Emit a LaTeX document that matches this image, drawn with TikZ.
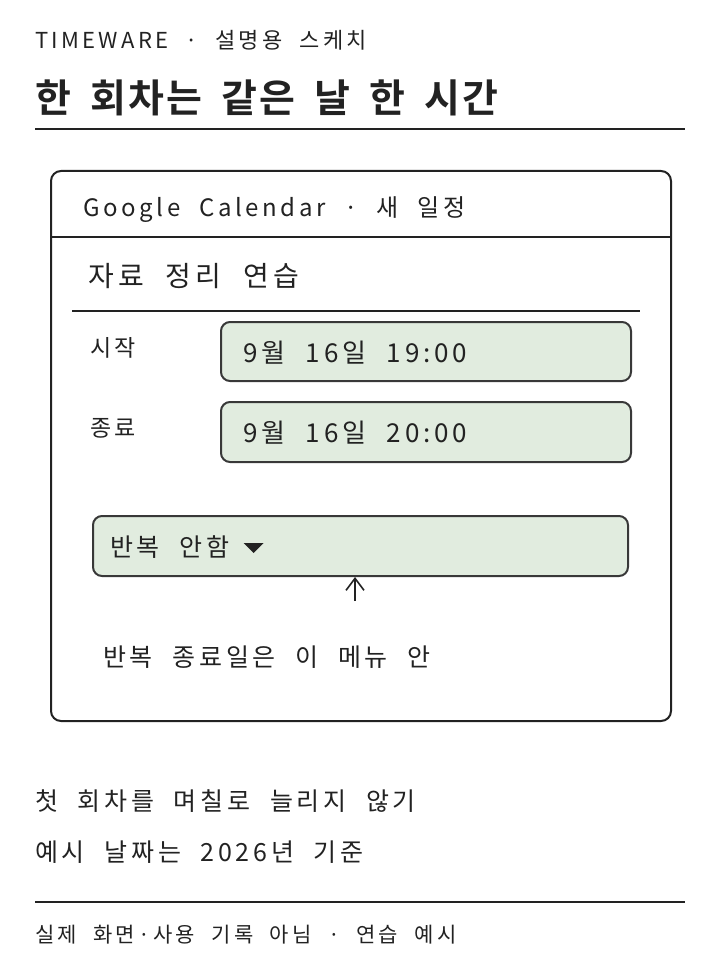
\documentclass[tikz,border=0pt]{standalone}
\usepackage{fontspec}
\setmainfont{Noto Sans CJK KR}
\newfontfamily\hand[LetterSpace=15, WordSpace=2.1]{Noto Sans CJK KR}
\newfontfamily\handbold[LetterSpace=6, WordSpace=1.7]{Noto Sans CJK KR Bold}
\usetikzlibrary{arrows.meta,calc}
\definecolor{ink}{HTML}{222222}
\definecolor{fieldfill}{HTML}{E1ECDF}
\tikzset{
  txt/.style={anchor=west, inner sep=0pt, text=ink},
  rule/.style={draw=ink, line width=2pt},
  card/.style={draw=ink, line width=2pt, rounded corners=10pt},
  field/.style={draw=ink!90, line width=2pt, rounded corners=9pt, fill=fieldfill},
}
\newcommand{\fs}[1]{\fontsize{#1}{#1}\selectfont\hand}
\begin{document}
\begin{tikzpicture}[x=1pt,y=-1pt]
\useasboundingbox (0,0) rectangle (720,960);
\node[txt, font=\fs{22}] (brand) at (35,40) {TIMEWARE · 설명용 스케치};
\node[txt, font=\fontsize{39}{42}\selectfont\handbold] (title) at (35,98) {한 회차는 같은 날 한 시간};
\coordinate (r1a) at (35,129); \coordinate (r1b) at (685,129);
\draw[rule] (r1a) -- (r1b);

\node[card, minimum width=620pt, minimum height=550pt, anchor=north west] (cardbox) at (50,170) {};
\coordinate (h1a) at (50,237); \coordinate (h1b) at (670,237);
\draw[line width=2pt, draw=ink] (h1a) -- (h1b);
\node[txt, font=\fs{24}] (gc) at (83,210) {Google Calendar · 새 일정};
\node[txt, font=\fs{28}] (evt) at (88,276) {자료 정리 연습};
\coordinate (h2a) at (72,311); \coordinate (h2b) at (640,311);
\draw[line width=1.6pt, draw=ink] (h2a) -- (h2b);

\node[txt, font=\fs{23}] (lstart) at (90,348) {시작};
\node[field, minimum width=410pt, minimum height=59pt, anchor=north west] (f1) at (220,321) {};
\node[txt, font=\fs{26}] (t1) at (243,353) {9월 16일 19:00};

\node[txt, font=\fs{23}] (lend) at (90,428) {종료};
\node[field, minimum width=410pt, minimum height=60pt, anchor=north west] (f2) at (220,401) {};
\node[txt, font=\fs{26}] (t2) at (243,433) {9월 16일 20:00};

\node[field, minimum width=535pt, minimum height=60pt, anchor=north west] (rep) at (92,515) {};
\node[txt, font=\fs{25}] (reptxt) at (110,547) {반복 안함};
\fill[ink] ($(reptxt.east)+(14,-4)$) -- ++(20,0) -- ++(-10,10) -- cycle;

\coordinate (arrtail) at (355,601);
\draw[ink, line width=1.6pt, -{Straight Barb[length=12pt, width=18pt]}] (arrtail) -- (rep.south -| arrtail);

\node[txt, font=\fs{25}] (note) at (103,657) {반복 종료일은 이 메뉴 안};

\node[txt, font=\fs{25}] (n1) at (35,801) {첫 회차를 며칠로 늘리지 않기};
\node[txt, font=\fs{25}] (n2) at (35,852) {예시 날짜는 2026년 기준};
\coordinate (r2a) at (35,902); \coordinate (r2b) at (685,902);
\draw[rule] (r2a) -- (r2b);
\node[txt, font=\fs{21}] (foot) at (35,935) {실제 화면·사용 기록 아님 · 연습 예시};
\end{tikzpicture}
\end{document}
